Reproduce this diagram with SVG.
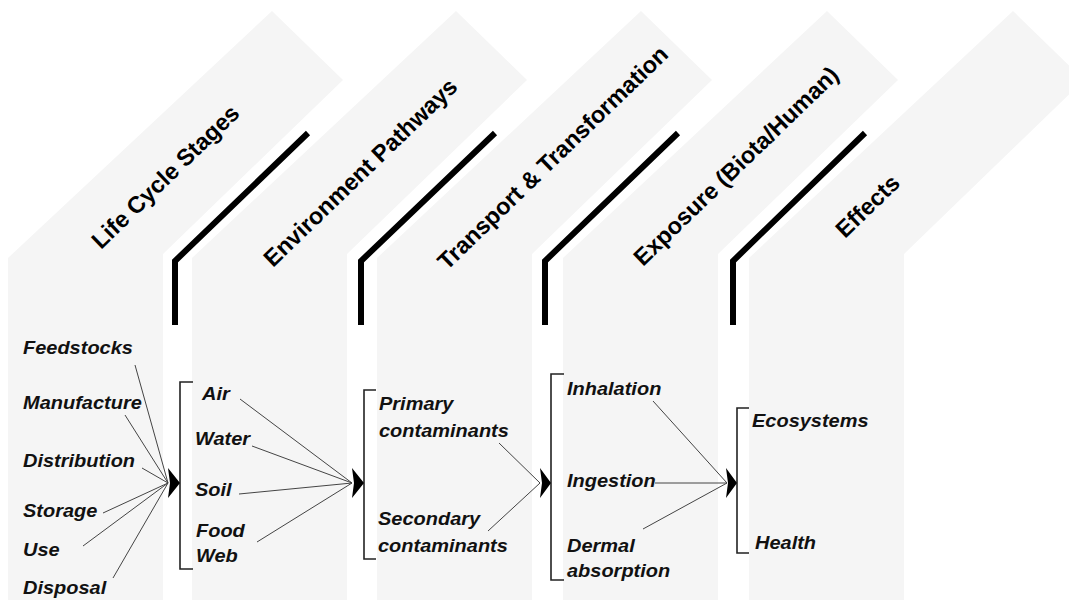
<svg xmlns="http://www.w3.org/2000/svg" width="1069" height="602" viewBox="0 0 1069 602">
<defs>
<style>
.col{fill:#f5f5f5;stroke:none}
.sep{fill:none;stroke:#000;stroke-width:6;stroke-linejoin:miter}
.title{font-family:"Liberation Sans",Arial,sans-serif;font-size:23.5px;font-weight:bold;fill:#000}
.lbl{font-family:"Liberation Sans",Arial,sans-serif;font-size:18.5px;font-weight:bold;font-style:italic;fill:#111}
.brk{fill:none;stroke:#222;stroke-width:1.6}
.ln{stroke:#444;stroke-width:1;fill:none}
.ah{fill:#000}
</style>
<polygon id="colshape" points="0,600 0,258 264,11 335,80 155,254 155,600"/>
</defs>
<rect width="1069" height="602" fill="#fff"/>
<g id="columns">
<use href="#colshape" class="col" x="8" y="0"/>
<use href="#colshape" class="col" x="192" y="0"/>
<use href="#colshape" class="col" x="377" y="0"/>
<use href="#colshape" class="col" x="563" y="0"/>
<use href="#colshape" class="col" x="749" y="0"/>
</g>
<g id="separators">
<polyline class="sep" points="175,325 175,261 308,133"/>
<polyline class="sep" points="361,325 361,261 495,133"/>
<polyline class="sep" points="545,325 545,261 678,133"/>
<polyline class="sep" points="733,325 733,261 865,133"/>
</g>
<g id="titles">
<text class="title" transform="translate(101,250) rotate(-44)">Life Cycle Stages</text>
<text class="title" transform="translate(273,268) rotate(-44)">Environment Pathways</text>
<text class="title" transform="translate(447,271) rotate(-44)">Transport &amp; Transformation</text>
<text class="title" transform="translate(643,267) rotate(-44)">Exposure (Biota/Human)</text>
<text class="title" transform="translate(845,239) rotate(-44)">Effects</text>
</g>
<g id="node-lifecycle">
<text class="lbl" transform="translate(23,354) scale(1.08,1)">Feedstocks</text>
<text class="lbl" transform="translate(23,409) scale(1.08,1)">Manufacture</text>
<text class="lbl" transform="translate(23,467) scale(1.08,1)">Distribution</text>
<text class="lbl" transform="translate(23,517) scale(1.08,1)">Storage</text>
<text class="lbl" transform="translate(23,556) scale(1.08,1)">Use</text>
<text class="lbl" transform="translate(23,594) scale(1.08,1)">Disposal</text>
</g>
<g id="node-pathways">
<polyline class="brk" points="193,382 180,382 180,569 193,569"/>
<text class="lbl" transform="translate(202,400) scale(1.08,1)">Air</text>
<text class="lbl" transform="translate(195,445) scale(1.08,1)">Water</text>
<text class="lbl" transform="translate(195,496) scale(1.08,1)">Soil</text>
<text class="lbl" transform="translate(196,537) scale(1.08,1)">Food</text>
<text class="lbl" transform="translate(196,562) scale(1.08,1)">Web</text>
</g>
<g id="node-transport">
<polyline class="brk" points="376,390 364,390 364,559 376,559"/>
<text class="lbl" transform="translate(379,410) scale(1.08,1)">Primary</text>
<text class="lbl" transform="translate(379,437) scale(1.08,1)">contaminants</text>
<text class="lbl" transform="translate(378,525) scale(1.08,1)">Secondary</text>
<text class="lbl" transform="translate(378,552) scale(1.08,1)">contaminants</text>
</g>
<g id="node-exposure">
<polyline class="brk" points="564,374 551,374 551,580 564,580"/>
<text class="lbl" transform="translate(567,395) scale(1.08,1)">Inhalation</text>
<text class="lbl" transform="translate(567,487) scale(1.08,1)">Ingestion</text>
<text class="lbl" transform="translate(567,552) scale(1.08,1)">Dermal</text>
<text class="lbl" transform="translate(567,577) scale(1.08,1)">absorption</text>
</g>
<g id="node-effects">
<polyline class="brk" points="749,408 737,408 737,553 749,553"/>
<text class="lbl" transform="translate(752,427) scale(1.08,1)">Ecosystems</text>
<text class="lbl" transform="translate(755,549) scale(1.08,1)">Health</text>
</g>
<g id="connectors">
<line class="ln" x1="135" y1="365" x2="168" y2="483"/>
<line class="ln" x1="125" y1="415" x2="168" y2="483"/>
<line class="ln" x1="142" y1="468" x2="168" y2="483"/>
<line class="ln" x1="103" y1="513" x2="168" y2="483"/>
<line class="ln" x1="83" y1="546" x2="168" y2="483"/>
<line class="ln" x1="113" y1="578" x2="168" y2="483"/>
<polygon class="ah" points="168,468 180,483 168,498 170,483"/>
<line class="ln" x1="240" y1="399" x2="352" y2="483"/>
<line class="ln" x1="252" y1="446" x2="352" y2="483"/>
<line class="ln" x1="239" y1="494" x2="352" y2="483"/>
<line class="ln" x1="257" y1="542" x2="352" y2="483"/>
<polygon class="ah" points="352,468 364,483 352,498 354,483"/>
<line class="ln" x1="499" y1="443" x2="540" y2="483"/>
<line class="ln" x1="488" y1="531" x2="540" y2="483"/>
<polygon class="ah" points="540,468 551,483 540,498 542,483"/>
<line class="ln" x1="653" y1="401" x2="727" y2="483"/>
<line class="ln" x1="655" y1="483" x2="727" y2="483"/>
<line class="ln" x1="643" y1="529" x2="727" y2="483"/>
<polygon class="ah" points="726,468 737,483 726,498 728,483"/>
</g>
</svg>
